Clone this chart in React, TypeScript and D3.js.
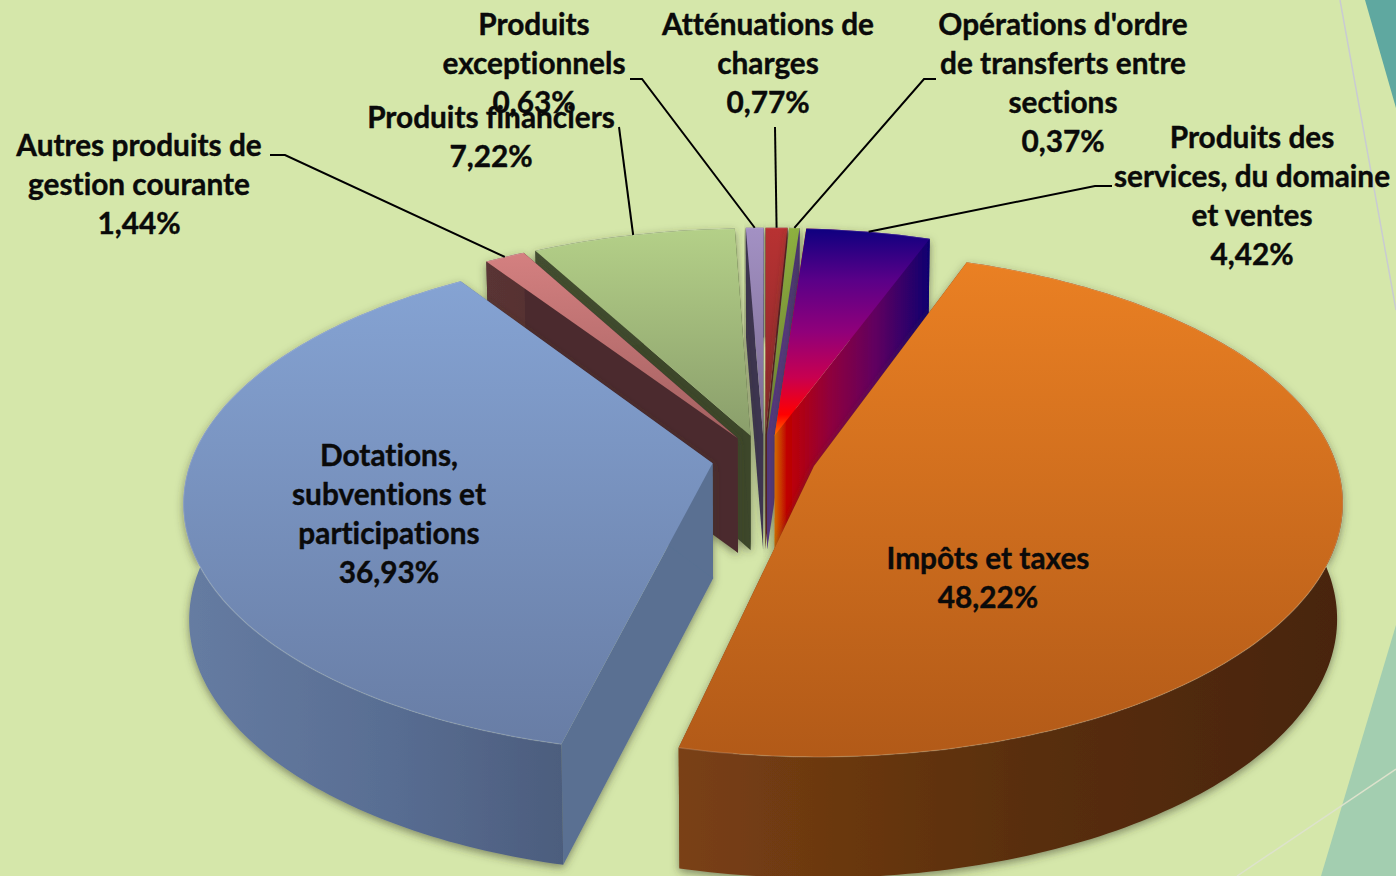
import React from "react";
import * as d3 from "d3";

//data
const categories = [
  "Impôts et taxes",
  "Dotations, subventions et participations",
  "Autres produits de gestion courante",
  "Produits financiers",
  "Produits exceptionnels",
  "Atténuations de charges",
  "Opérations d'ordre de transferts entre sections",
  "Produits des services, du domaine et ventes",
];
const values = [48.22, 36.93, 1.44, 7.22, 0.63, 0.77, 0.37, 4.42];
const valueLabels = ["48,22%", "36,93%", "1,44%", "7,22%", "0,63%", "0,77%", "0,37%", "4,42%"];
const labelLines = [
  ["Impôts et taxes", "48,22%"],
  ["Dotations,", "subventions et", "participations", "36,93%"],
  ["Autres produits de", "gestion courante", "1,44%"],
  ["Produits financiers", "7,22%"],
  ["Produits", "exceptionnels", "0,63%"],
  ["Atténuations de", "charges", "0,77%"],
  ["Opérations d'ordre", "de transferts entre", "sections", "0,37%"],
  ["Produits des", "services, du domaine", "et ventes", "4,42%"],
];
// first baseline of each label [x centre, y]
const labelPos = [
  [988, 569],
  [389, 466],
  [139, 156],
  [491, 128],
  [534, 35],
  [768, 35],
  [1063, 35],
  [1252, 148],
];
// label side of each leader line, slice end is computed
const leaderStarts: ([number, number][] | null)[] = [
  null,
  null,
  [[270, 155], [285, 155]],
  [[619, 127]],
  [[630, 79], [642, 79]],
  [[775, 127]],
  [[936, 79], [924, 79]],
  [[1112, 186], [1095, 186]],
];
const topStops = [
  [[0, "#ea8023"], [1, "#b25a18"]],
  [[0, "#85a3d3"], [1, "#687da5"]],
  [[0, "#d48080"], [1, "#a36060"]],
  [[0, "#b4d088"], [1, "#8a9e6b"]],
  [[0, "#a391c4"], [1, "#7a6b90"]],
  [[0, "#b83232"], [1, "#86282a"]],
  [[0, "#8db03f"], [1, "#6d7f33"]],
  [[0, "#0e0080"], [0.25, "#5a0088"], [0.5, "#90007a"], [0.72, "#c80050"], [0.9, "#ff0000"], [1, "#ff7000"]],
];
const wallStops = [
  [[0, "#7a4014"], [0.5, "#5a2f0c"], [1, "#482408"]],
  [[0, "#667ca2"], [0.4, "#586d92"], [1, "#424f6b"]],
  [[0, "#5a3434"], [1, "#472829"]],
  [[0, "#444f30"], [1, "#3a4429"]],
  [[0, "#3c3550"], [1, "#3c3550"]],
  [[0, "#5a1f1f"], [1, "#5a1f1f"]],
  [[0, "#5a3f85"], [1, "#4a3570"]],
  [[0, "#d06a00"], [0.08, "#c00000"], [0.35, "#90003c"], [0.65, "#600060"], [1, "#0e0070"]],
];
const sideFills = ["#7a4014", "#5a7092", "#4c2c2e", "#3c462b", "#3c3550", "#5a1f1f", "#54397f", "url(#wall7)"];
const background = "#d5e7aa";

const width = 1396;
const height = 876;
const explode = 0.1;
const depth = 115;
const perspectiveX = 0.14;
const perspectiveY = 0.15;
const skew = 3.5;

const sx = d3.scaleLinear().domain([-1, 1]).range([764 - 521, 764 + 521]);
const sy = d3.scaleLinear().domain([-1, 1]).range([459 - 245, 459 + 245]);

// world -> screen, y grows toward the viewer
function project(X: number, Y: number, low = false): [number, number] {
  const px = 1 / (1 - perspectiveX * Y);
  const py = 1 / (1 - perspectiveY * Y);
  const x = sx(low ? X * px * 0.99 : X * px) - skew * Y * py;
  return [x, sy(Y * py) + (low ? depth * Math.pow(py, 0.3) : 0)];
}

const pieGen = d3
  .pie<number>()
  .sort(null)
  .startAngle((19.7 * Math.PI) / 180)
  .endAngle((19.7 * Math.PI) / 180 + 2 * Math.PI);

const arcs = pieGen(values);
const lineGen = d3.line();

function App() {
  const slices = arcs.map((a, i) => {
    const mid = (a.startAngle + a.endAngle) / 2;
    const ox = explode * Math.sin(mid);
    const oy = -explode * Math.cos(mid);
    const steps = Math.max(2, Math.ceil(((a.endAngle - a.startAngle) * 180) / Math.PI));
    const angles = d3.range(steps + 1).map((k) => a.startAngle + ((a.endAngle - a.startAngle) * k) / steps);
    const rim = (t: number, low = false) => project(ox + Math.sin(t), oy - Math.cos(t), low);
    const apex = project(ox, oy);
    const apexLow = project(ox, oy, true);
    const top = angles.map((t) => rim(t));
    const low = angles.map((t) => rim(t, true));
    return {
      i,
      oy,
      mid,
      leaderEnd: rim(mid),
      top: lineGen([apex, ...top]) + "Z",
      wall: lineGen([...top, ...low.slice().reverse()]) + "Z",
      sideA: lineGen([apex, top[0], low[0], apexLow]) + "Z",
      sideB: lineGen([apex, top[top.length - 1], low[low.length - 1], apexLow]) + "Z",
      rimLine: lineGen(top),
      xs: d3.extent(top.concat(low).concat([apex]), (d) => d[0]) as [number, number],
    };
  });
  const order = slices.slice().sort((a, b) => a.oy - b.oy);

  return (
    <svg
      width={width}
      height={height}
      viewBox={`0 0 ${width} ${height}`}
      style={{ position: "absolute", left: 0, top: 0, display: "block" }}
      fontFamily="Lato, 'Open Sans', sans-serif"
    >
      <defs>
        <filter id="shadow" x="-10%" y="-10%" width="120%" height="120%">
          <feDropShadow dx="0" dy="3" stdDeviation="4" floodColor="#3a3a2a" floodOpacity="0.55" />
        </filter>
        {slices.map((s) => (
          <React.Fragment key={s.i}>
            <linearGradient id={`top${s.i}`} x1="0" y1="0" x2="0" y2="1">
              {topStops[s.i].map((d, k) => (
                <stop key={k} offset={d[0] as number} stopColor={d[1] as string} />
              ))}
            </linearGradient>
            <linearGradient id={`wall${s.i}`} gradientUnits="userSpaceOnUse" x1={s.xs[0]} x2={s.xs[1]} y1="0" y2="0">
              {wallStops[s.i].map((d, k) => (
                <stop key={k} offset={d[0] as number} stopColor={d[1] as string} />
              ))}
            </linearGradient>
          </React.Fragment>
        ))}
      </defs>

      <rect width={width} height={height} fill={background} />

      {/* slide decoration */}
      <path d={lineGen([[1365, 0], [1396, 0], [1396, 108]]) + "Z"} fill="#5fa8a0" />
      <path d={lineGen([[1396, 625], [1396, 876], [1321, 876]]) + "Z"} fill="#a3ceb0" />
      <path d={lineGen([[1340, 0], [1396, 310]]) ?? ""} stroke="#c9cbd2" strokeWidth={1.5} fill="none" />
      <path d={lineGen([[1396, 769], [1237, 876]]) ?? ""} stroke="#dde2cc" strokeWidth={1.5} fill="none" />

      {order.map((s) => (
        <g key={s.i}>
          <g filter="url(#shadow)">
            <path d={s.sideA} fill={sideFills[s.i]} />
            <path d={s.sideB} fill={sideFills[s.i]} />
            <path d={s.wall} fill={`url(#wall${s.i})`} />
          </g>
          <path d={s.top} fill={`url(#top${s.i})`} />
          <path d={s.rimLine ?? ""} fill="none" stroke="#ffffff" strokeOpacity={0.14} strokeWidth={1.5} />
        </g>
      ))}

      {slices.map((s) =>
        leaderStarts[s.i] ? (
          <path
            key={s.i}
            d={lineGen([...(leaderStarts[s.i] as [number, number][]), s.leaderEnd]) ?? ""}
            fill="none"
            stroke="#000"
            strokeWidth={2}
          />
        ) : null
      )}

      {categories.map((c, i) => (
        <text
          key={c}
          x={labelPos[i][0]}
          y={labelPos[i][1]}
          textAnchor="middle"
          fontSize={29.8}
          fontWeight={700}
          fill="#0a0a0a"
          stroke="#0a0a0a"
          strokeWidth={0.4}
          style={{ fontVariantLigatures: "none" }}
          aria-label={`${c} ${valueLabels[i]}`}
        >
          {labelLines[i].map((t, k) => (
            <tspan key={k} x={labelPos[i][0]} dy={k === 0 ? 0 : 39}>
              {t}
            </tspan>
          ))}
        </text>
      ))}
    </svg>
  );
}

export default App;
